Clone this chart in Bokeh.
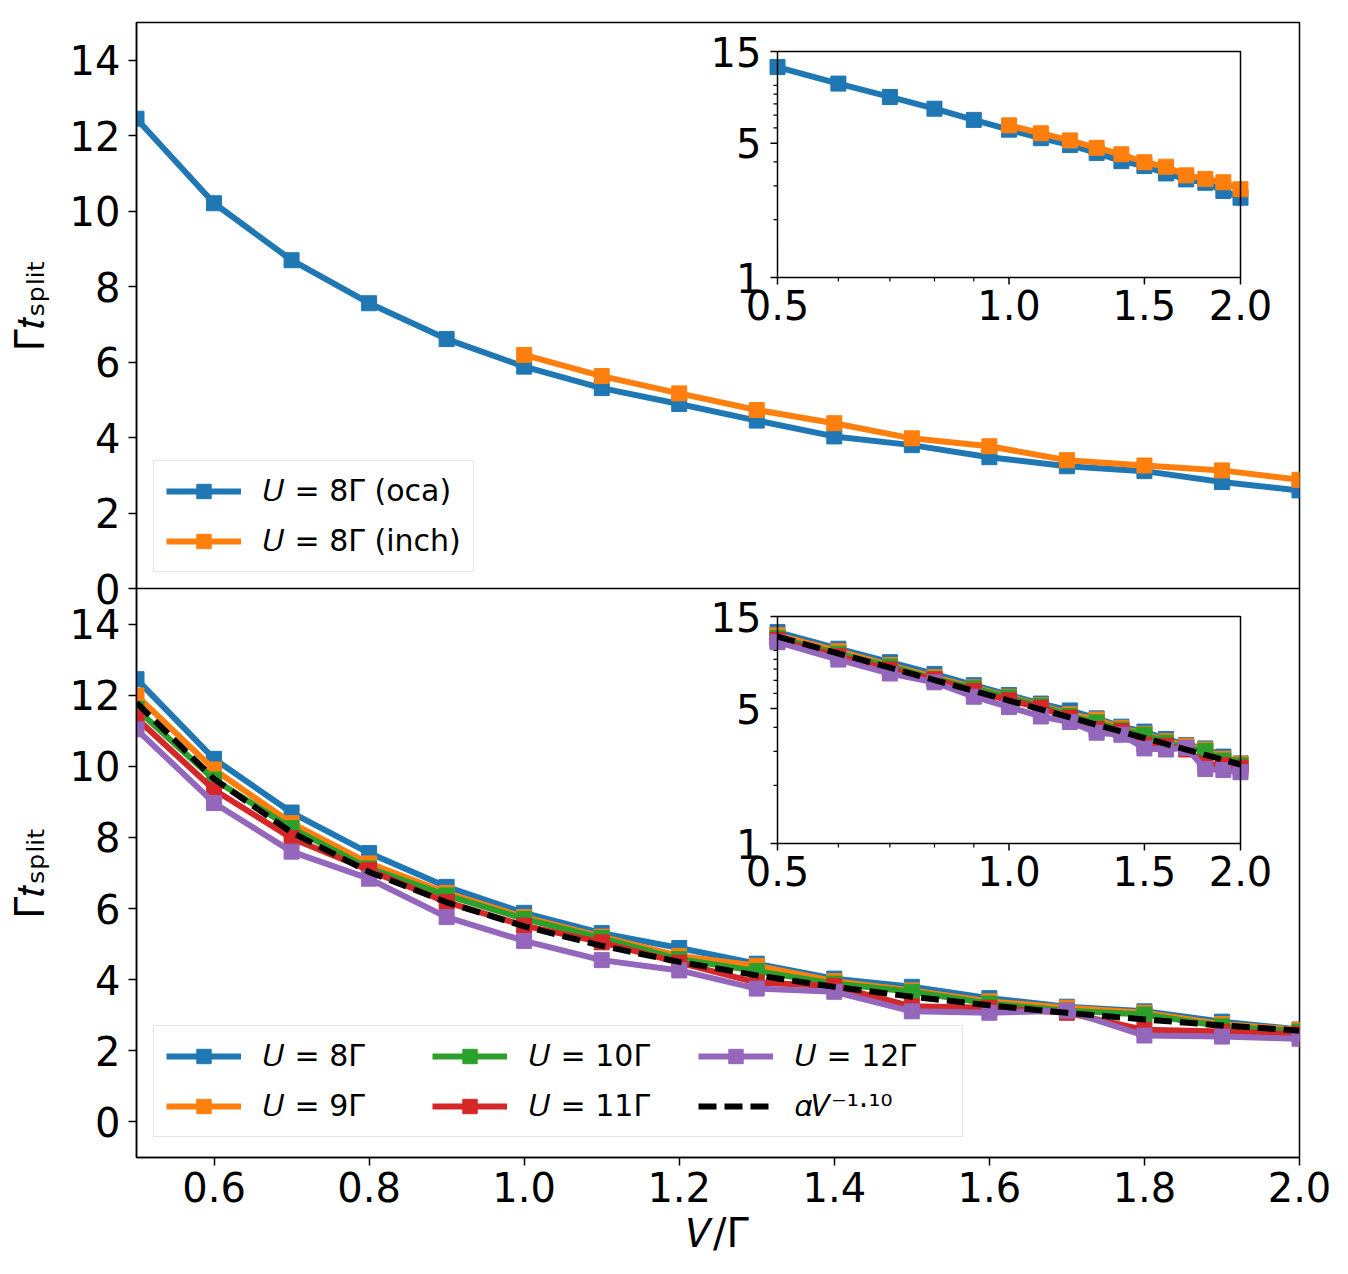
import math
import numpy as np
from bokeh.plotting import figure
from bokeh.layouts import column
from bokeh.models import Range1d, LogScale, FixedTicker
from bokeh.core.properties import value
from bokeh.embed import file_html
from bokeh.resources import INLINE

# ---------------------------------------------------------------- data
V = [0.5, 0.6, 0.7, 0.8, 0.9, 1.0, 1.1, 1.2, 1.3, 1.4, 1.5, 1.6, 1.7, 1.8, 1.9, 2.0]
V_INCH = [1.0, 1.1, 1.2, 1.3, 1.4, 1.5, 1.6, 1.7, 1.8, 1.9, 2.0]

# splitting time for U = 8Γ, two solvers
T_OCA_U8 = [12.45, 10.21, 8.70, 7.56, 6.61, 5.88, 5.31, 4.89, 4.45, 4.03, 3.80, 3.48, 3.24, 3.11, 2.82, 2.60]
T_INCH_U8 = [6.19, 5.63, 5.17, 4.73, 4.38, 3.98, 3.77, 3.40, 3.26, 3.13, 2.88]

# splitting time for several interaction strengths
T_U8 = T_OCA_U8
T_U9 = [11.99, 9.91, 8.40, 7.27, 6.44, 5.76, 5.21, 4.67, 4.39, 3.96, 3.70, 3.39, 3.21, 3.07, 2.75, 2.59]
T_U10 = [11.61, 9.63, 8.26, 7.13, 6.37, 5.71, 5.17, 4.58, 4.24, 3.89, 3.66, 3.33, 3.13, 3.02, 2.69, 2.54]
T_U11 = [11.35, 9.34, 7.98, 7.08, 6.18, 5.52, 5.05, 4.48, 3.92, 3.82, 3.25, 3.21, 3.07, 2.59, 2.54, 2.47]
T_U12 = [11.04, 8.97, 7.60, 6.84, 5.76, 5.09, 4.55, 4.26, 3.75, 3.66, 3.11, 3.07, 3.13, 2.43, 2.40, 2.34]

# power-law fit  t = alpha * V^exponent
FIT_ALPHA = 5.5
FIT_EXP = -1.10

MAIN_XTICKS = [0.6, 0.8, 1.0, 1.2, 1.4, 1.6, 1.8, 2.0]
MAIN_YTICKS = [0, 2, 4, 6, 8, 10, 12, 14]
INSET_XTICKS = [0.5, 1.0, 1.5, 2.0]
INSET_XLABELS = ["0.5", "1.0", "1.5", "2.0"]
INSET_XMINOR = [0.6, 0.7, 0.8, 0.9]
INSET_YTICKS = [1, 5, 15]
INSET_YLABELS = ["1", "5", "15"]
INSET_YMINOR = [2, 3, 4, 6, 7, 8, 9, 10]

# ---------------------------------------------------------------- style
BLUE, ORANGE, GREEN, RED, PURPLE = "#1f77b4", "#ff7f0e", "#2ca02c", "#d62728", "#9467bd"
FONT = "DejaVu Sans"
TICK_FONT = "40px"
LW = 6
MS = 15

W = 1348
LEFT, RIGHT = 136, 49
INSET_X = (777, 1240)          # inset box, canvas pixels
OVERLAP = 30                   # room under the upper frame for its "0" label


def log_span(lo, hi, p_lo, p_hi, f_lo, f_hi):
    """Range whose log scale puts lo..hi at pixels p_lo..p_hi of a frame f_lo..f_hi."""
    a, b = math.log10(lo), math.log10(hi)
    k = (b - a) / (p_hi - p_lo)
    return 10 ** (a - k * (p_lo - f_lo)), 10 ** (b + k * (f_hi - p_hi))


def make_fig(height, yr, top, bottom, show_x):
    p = figure(width=W, height=height, x_range=Range1d(0.5, 2.0), y_range=Range1d(*yr),
               min_border_left=LEFT, min_border_right=RIGHT,
               min_border_top=top, min_border_bottom=bottom,
               x_axis_location="below" if show_x else None,
               output_backend="svg", toolbar_location=None)
    p.grid.visible = False
    p.outline_line_color = "black"
    p.outline_line_width = 1.5
    p.background_fill_color = "white"
    for ax in p.axis:
        ax.axis_line_width = 1.5
        ax.major_tick_line_width = 1.5
        ax.major_tick_out = 8
        ax.major_tick_in = 0
        ax.minor_tick_line_color = None
        ax.major_label_text_font = FONT
        ax.major_label_text_font_size = TICK_FONT
        ax.major_label_text_color = "black"
        ax.axis_label_text_font = FONT
        ax.axis_label_text_font_size = TICK_FONT
        ax.axis_label_text_font_style = "normal"
        ax.axis_label_text_color = "black"
    p.yaxis.ticker = FixedTicker(ticks=MAIN_YTICKS)
    p.yaxis.major_label_standoff = 8
    p.yaxis.axis_label = "Γ𝑡ₛₚₗᵢₜ"
    p.yaxis.axis_label_standoff = 14
    if show_x:
        p.xaxis.ticker = FixedTicker(ticks=MAIN_XTICKS)
        p.xaxis.major_label_overrides = {t: f"{t:.1f}" for t in MAIN_XTICKS}
        p.xaxis.major_label_standoff = 6
        p.xaxis.axis_label = "𝑉/Γ"
        p.xaxis.axis_label_standoff = 5
    return p


def add_inset(p, frame_y, box_y, series):
    """Log-log inset drawn on extra ranges; frame_y/box_y are (top, bottom) canvas pixels."""
    x0, x1 = log_span(0.5, 2.0, INSET_X[0], INSET_X[1], LEFT, W - RIGHT)
    y0, y1 = log_span(1, 15, -box_y[1], -box_y[0], -frame_y[1], -frame_y[0])
    p.extra_x_ranges = {"ix": Range1d(x0, x1)}
    p.extra_y_ranges = {"iy": Range1d(y0, y1)}
    p.extra_x_scales = {"ix": LogScale()}
    p.extra_y_scales = {"iy": LogScale()}
    kw = dict(x_range_name="ix", y_range_name="iy")

    p.quad(left=[0.5], right=[2.0], bottom=[1], top=[15], fill_color="white",
           line_color=None, **kw)
    for xs, ys, color in series:
        p.line(xs, ys, line_width=LW, color=color, **kw)
        p.scatter(xs, ys, marker="square", size=MS, color=color, **kw)
    return kw


def finish_inset(p, kw):
    p.quad(left=[0.5], right=[2.0], bottom=[1], top=[15], fill_color=None,
           line_color="black", line_width=1.5, **kw)
    # ticks
    p.ray(x=INSET_XTICKS, y=[1] * len(INSET_XTICKS), length=7, length_units="screen",
          angle=-math.pi / 2, line_color="black", line_width=1.5, **kw)
    p.ray(x=INSET_XMINOR, y=[1] * len(INSET_XMINOR), length=4, length_units="screen",
          angle=-math.pi / 2, line_color="black", line_width=1.2, **kw)
    p.ray(x=[0.5] * len(INSET_YTICKS), y=INSET_YTICKS, length=7, length_units="screen",
          angle=math.pi, line_color="black", line_width=1.5, **kw)
    p.ray(x=[0.5] * len(INSET_YMINOR), y=INSET_YMINOR, length=4, length_units="screen",
          angle=math.pi, line_color="black", line_width=1.2, **kw)
    # tick labels
    p.text(x=INSET_XTICKS, y=[1] * len(INSET_XTICKS), text=INSET_XLABELS,
           text_font=value(FONT), text_font_size=value(TICK_FONT), text_color="black",
           text_align="center", text_baseline="top", y_offset=12, **kw)
    p.text(x=[0.5] * len(INSET_YTICKS), y=INSET_YTICKS, text=INSET_YLABELS,
           text_font=value(FONT), text_font_size=value(TICK_FONT), text_color="black",
           text_align="right", text_baseline="middle", x_offset=-16, **kw)


def style_legend(p, loc, nrows=None, label_width=20):
    leg = p.legend[0]
    leg.location = loc
    leg.label_text_font = FONT
    leg.label_text_font_size = "30px"
    leg.label_text_color = "black"
    leg.glyph_width = 75
    leg.glyph_height = 36
    leg.label_height = 36
    leg.label_width = label_width
    leg.label_standoff = 22
    leg.spacing = 14
    leg.padding = 12
    leg.margin = 0
    leg.border_line_color = "#cccccc"
    leg.border_line_width = 1.5
    leg.background_fill_alpha = 0.8
    if nrows:
        leg.nrows = nrows


# ---------------------------------------------------------------- top panel
top = make_fig(588 + OVERLAP, (0, 15), 22, OVERLAP, False)
top.border_fill_color = "white"
for xs, ys, color, lab in [(V, T_OCA_U8, BLUE, "𝑈 = 8Γ (oca)"),
                           (V_INCH, T_INCH_U8, ORANGE, "𝑈 = 8Γ (inch)")]:
    top.line(xs, ys, line_width=LW, color=color, legend_label=lab)
    top.scatter(xs, ys, marker="square", size=MS, color=color, legend_label=lab)
kw = add_inset(top, (22, 588), (51, 277), [(V, T_OCA_U8, BLUE), (V_INCH, T_INCH_U8, ORANGE)])
finish_inset(top, kw)
style_legend(top, (17, 16))

# ---------------------------------------------------------------- bottom panel
fit = list(FIT_ALPHA * np.array(V) ** FIT_EXP)
bot = make_fig(686, (-1, 15), 0, 117, True)
bot.border_fill_color = None      # lets the upper panel's "0" show through
bot.margin = (-OVERLAP, 0, 0, 0)
bottom_series = [(T_U8, BLUE, "𝑈 = 8Γ"), (T_U9, ORANGE, "𝑈 = 9Γ"),
                 (T_U10, GREEN, "𝑈 = 10Γ"), (T_U11, RED, "𝑈 = 11Γ"),
                 (T_U12, PURPLE, "𝑈 = 12Γ")]
for ys, color, lab in bottom_series:
    bot.line(V, ys, line_width=LW, color=color, legend_label=lab)
    bot.scatter(V, ys, marker="square", size=MS, color=color, legend_label=lab)
bot.line(V, fit, line_width=LW, color="black", line_dash="18 8", legend_label="𝛼𝑉⁻¹·¹⁰")

# inset: same curves, log-log
kw = add_inset(bot, (0, 569), (28, 255), [(V, ys, c) for ys, c, _ in bottom_series])
bot.line(V, fit, line_width=LW, color="black", line_dash="18 8", **kw)
finish_inset(bot, kw)
style_legend(bot, (17, 20), nrows=2, label_width=155)

layout = column(top, bot, spacing=0)
open("out.html", "w").write(file_html(layout, INLINE))
